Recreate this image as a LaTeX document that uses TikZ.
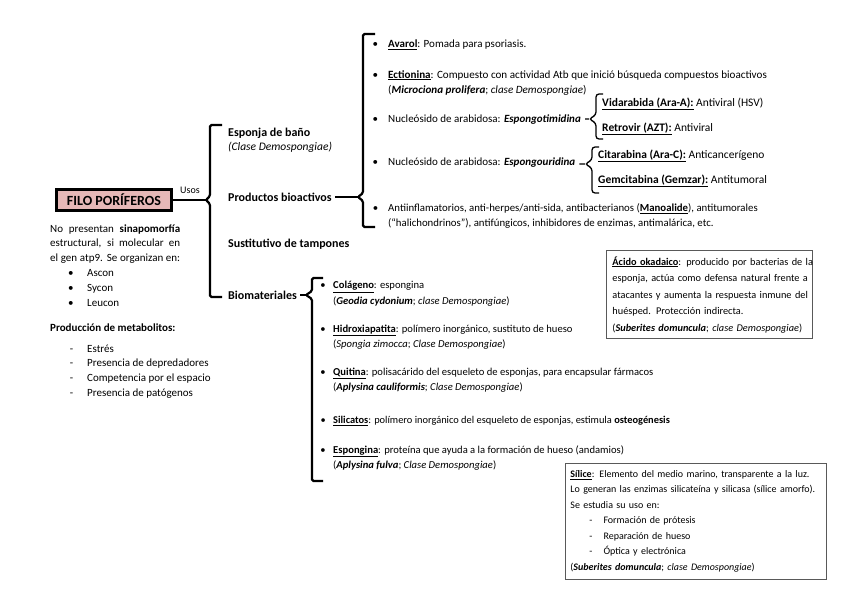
\documentclass[tikz,border=0pt]{standalone}
\usepackage{fontspec}
\setmainfont{Carlito}
\usepackage{xcolor}
\usepackage{tikz}
\usetikzlibrary{positioning}
\definecolor{filopink}{HTML}{E6B8B7}
\definecolor{notegray}{HTML}{595959}

\begin{document}
\begin{tikzpicture}[
  x=1pt,y=-1pt,
  base/.style={inner sep=0pt,anchor=west,align=left},
  txt/.style={base,font=\fontsize{11}{15.5}\selectfont},
  mat/.style={base,font=\fontsize{10.6}{15.5}\selectfont},
  sub/.style={base,font=\fontsize{11.5}{13}\selectfont},
  side/.style={base,font=\fontsize{11}{14.7}\selectfont},
  branch/.style={base,font=\fontsize{12}{14}\selectfont\bfseries},
  root/.style={draw,line width=2.4pt,fill=filopink,minimum width=115pt,minimum height=21pt,inner sep=0pt,font=\fontsize{14}{16}\selectfont\bfseries},
  note/.style={draw=notegray,line width=0.9pt,inner xsep=6pt,inner ysep=6pt,anchor=north west,align=left},
  brace/.style={line width=2.2pt,rounded corners=1.5pt},
  subbrace/.style={line width=1.3pt,rounded corners=3pt},
  link/.style={line width=2pt,shorten <=3pt},
  sublink/.style={line width=1.3pt,shorten <=4pt}
]
\useasboundingbox (0,0) rectangle (848,599);

% root and left column
\node[root] (filo) at (114,200) {FILO PORÍFEROS};
\node[font=\fontsize{10}{12}\selectfont,inner sep=0pt] (usos) at (190,190) {Usos};
\node[side] (sinapo) at (50,244) {\makebox[130pt][s]{No presentan \textbf{sinapomorfía}}\\
  \makebox[130pt][s]{estructural, si molecular en}\\
  \makebox[130pt][s]{el gen atp9. Se organizan en:}};
\node[side] (tipos) at (87,288) {\llap{\textbullet\hspace{13.5pt}}Ascon\\
  \llap{\textbullet\hspace{13.5pt}}Sycon\\
  \llap{\textbullet\hspace{13.5pt}}Leucon};
\node[side,font=\fontsize{11}{14.7}\selectfont\bfseries] (metab) at (50,328) {Producción de metabolitos:};
\node[side] (causas) at (87,371.5) {\llap{-\hspace{14pt}}Estrés\\
  \llap{-\hspace{14pt}}Presencia de depredadores\\
  \llap{-\hspace{14pt}}Competencia por el espacio\\
  \llap{-\hspace{14pt}}Presencia de patógenos};

% usos
\coordinate (usosTip) at (206,200);
\draw[brace] (222,125) -- (210,125) -- (210,196) -- (usosTip) -- (210,204) -- (210,297) -- (222,297);
\draw[link,shorten <=0pt] (filo) -- (usosTip);

\node[branch] (banio) at (228,133) {Esponja de baño};
\node[base,font=\fontsize{11.5}{13}\selectfont\itshape,below=3pt of banio.south west,anchor=north west] (banioclase) {(Clase Demospongiae)};
\node[branch] (bioact) at (228,197) {Productos bioactivos};
\node[branch] (tampon) at (228,244) {Sustitutivo de tampones};
\node[branch] (biomat) at (228,295) {Biomateriales};

% productos bioactivos
\coordinate (bioTip) at (358,197);
\draw[brace] (375,34) -- (363,34) -- (363,193) -- (bioTip) -- (363,201) -- (363,227) -- (375,227);
\draw[link] (bioact) -- (bioTip);

\node[txt] (avarol) at (388,45) {\llap{\textbullet\hspace{10pt}}\underline{\textbf{Avarol}}: Pomada para psoriasis.};
\node[txt,font=\fontsize{11.1}{15.5}\selectfont] (ectionina) at (388,83) {\llap{\textbullet\hspace{10pt}}\underline{\textbf{Ectionina}}: Compuesto con actividad Atb que inició búsqueda compuestos bioactivos\\
  (\textbf{\textit{Microciona prolifera}}; \textit{clase Demospongiae})};
\node[txt] (nucA) at (388,120) {\llap{\textbullet\hspace{10pt}}Nucleósido de arabidosa: \textbf{\textit{Espongotimidina}}};
\node[txt] (nucB) at (388,163) {\llap{\textbullet\hspace{10pt}}Nucleósido de arabidosa: \textbf{\textit{Espongouridina}}};
\node[txt,font=\fontsize{10.8}{15.5}\selectfont] (antiinf) at (388,216) {\llap{\textbullet\hspace{10pt}}Antiinflamatorios, anti-herpes/anti-sida, antibacterianos (\underline{\textbf{Manoalide}}), antitumorales\\
  (“halichondrinos”), antifúngicos, inhibidores de enzimas, antimalárica, etc.};

\coordinate (timTip) at (589,119);
\draw[subbrace] (603,94) -- (596,94) -- (596,115) -- (timTip) -- (596,123) -- (596,139) -- (603,139);
\draw[sublink] (nucA) -- (timTip);
\node[sub] (vidara) at (602,104) {\underline{\textbf{Vidarabida (Ara-A):}} Antiviral (HSV)};
\node[sub] (retro) at (602,129) {\underline{\textbf{Retrovir (AZT):}} Antiviral};

\coordinate (uriTip) at (585,164);
\draw[subbrace] (599,147) -- (592,147) -- (592,160) -- (uriTip) -- (592,168) -- (592,193) -- (599,193);
\draw[sublink] (nucB) -- (uriTip);
\node[sub] (citara) at (598,156) {\underline{\textbf{Citarabina (Ara-C):}} Anticancerígeno};
\node[sub] (gemci) at (598,181) {\underline{\textbf{Gemcitabina (Gemzar):}} Antitumoral};

% biomateriales
\coordinate (matTip) at (306,295);
\draw[brace] (323,278) -- (312,278) -- (312,291) -- (matTip) -- (312,299) -- (312,481) -- (323,481);
\draw[link] (biomat) -- (matTip);

\node[mat] (colageno) at (333,293.5) {\llap{\textbullet\hspace{7.5pt}}\underline{\textbf{Colágeno}}: espongina\\
  (\textbf{\textit{Geodia cydonium}}; \textit{clase Demospongiae})};
\node[mat] (hidroxi) at (333,337) {\llap{\textbullet\hspace{7.5pt}}\underline{\textbf{Hidroxiapatita}}: polímero inorgánico, sustituto de hueso\\
  (\textit{Spongia zimocca}; \textit{Clase Demospongiae})};
\node[mat] (quitina) at (333,380) {\llap{\textbullet\hspace{7.5pt}}\underline{\textbf{Quitina}}: polisacárido del esqueleto de esponjas, para encapsular fármacos\\
  (\textbf{\textit{Aplysina cauliformis}}; \textit{Clase Demospongiae})};
\node[mat,font=\fontsize{10.4}{15.5}\selectfont] (silicato) at (333,421) {\llap{\textbullet\hspace{7.5pt}}\underline{\textbf{Silicatos}}: polímero inorgánico del esqueleto de esponjas, estimula \textbf{osteogénesis}};
\node[mat] (espongina) at (333,458) {\llap{\textbullet\hspace{7.5pt}}\underline{\textbf{Espongina}}: proteína que ayuda a la formación de hueso (andamios)\\
  (\textbf{\textit{Aplysina fulva}}; \textit{Clase Demospongiae})};

% recuadros
\node[note,text width=194pt,font=\fontsize{10.3}{16.5}\selectfont] (okadaico) at (606,250) {\makebox[194pt][s]{\underline{\textbf{Ácido okadaico}}: producido por bacterias de la}\\
  \makebox[194pt][s]{esponja, actúa como defensa natural frente a}\\
  \makebox[194pt][s]{atacantes y aumenta la respuesta inmune del}\\
  huésped. Protección indirecta.\\
  (\textbf{\textit{Suberites domuncula}}; \textit{clase Demospongiae})};

\node[note,text width=251pt,inner xsep=5pt,font=\fontsize{10}{15.5}\selectfont,inner ysep=7pt] (silice) at (565,463) {\underline{\textbf{Sílice}}: Elemento del medio marino, transparente a la luz.\\
  Lo generan las enzimas silicateína y silicasa (sílice amorfo).\\
  Se estudia su uso en:\\
  \hspace*{19pt}-\hspace{11pt}Formación de prótesis\\
  \hspace*{19pt}-\hspace{11pt}Reparación de hueso\\
  \hspace*{19pt}-\hspace{11pt}Óptica y electrónica\\
  (\textbf{\textit{Suberites domuncula}}; \textit{clase Demospongiae})};
\end{tikzpicture}
\end{document}
